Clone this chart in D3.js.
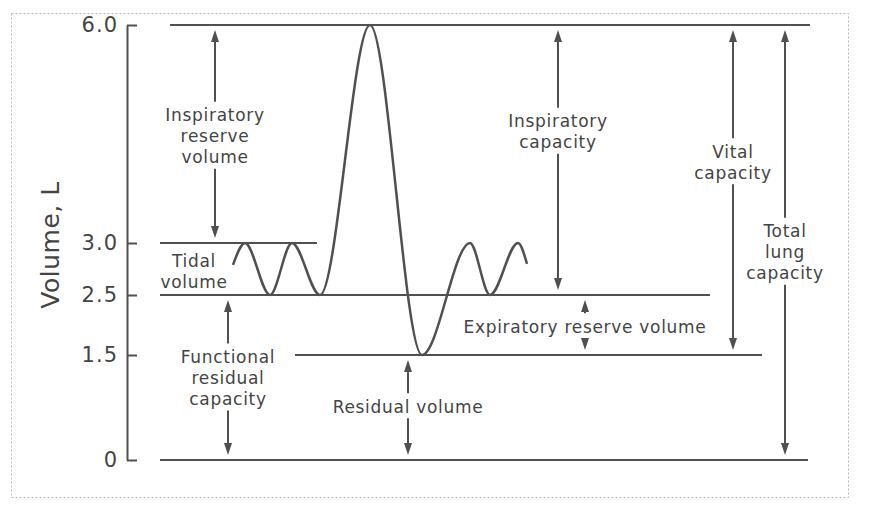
<!DOCTYPE html>
<html>
<head>
<meta charset="utf-8">
<script src="https://cdn.jsdelivr.net/npm/d3@7"></script>
<style>
  body { margin: 0; background: #fff; }
  svg { display: block; }
</style>
</head>
<body>
<svg id="chart" width="888" height="515"></svg>
<script>
// lung volume levels (litres) and how far each level line runs along the trace (s)
var levelValues = [6.0, 3.0, 2.5, 1.5, 0];
var levelStart = [1, 0, 0, 13.5, 0];
var levelEnd = [65, 15.7, 55, 60.2, 64.8];

var tickValues = [0, 1.5, 2.5, 3.0, 6.0];
var tickLabels = ['0', '1.5', '2.5', '3.0', '6.0'];

// spirogram turning points
var traceTime = [7.3, 8.5, 11, 13.2, 16, 21, 26.2, 31, 33, 35.8, 36.7];
var traceVolume = [2.79, 3.0, 2.5, 3.0, 2.5, 6.0, 1.5, 3.0, 2.5, 3.0, 2.8];

// annotated volumes and capacities
var spanNames = [
  ['Inspiratory', 'reserve', 'volume'],
  ['Tidal', 'volume'],
  ['Functional', 'residual', 'capacity'],
  ['Inspiratory', 'capacity'],
  ['Expiratory reserve volume'],
  ['Residual volume'],
  ['Vital', 'capacity'],
  ['Total', 'lung', 'capacity']
];
var spanTime = [5.5, 3.4, 6.8, 39.8, 42.5, 24.8, 57.3, 62.5];
var spanFrom = [3.0, 2.5, 0, 2.5, 1.5, 0, 1.5, 0];
var spanTo = [6.0, 3.0, 2.5, 6.0, 2.5, 1.5, 6.0, 6.0];
var spanLabelAt = [4.47, 2.73, 1.17, 4.53, 1.97, 0.76, 4.11, 2.91];
var spanArrow = [true, false, true, true, true, true, true, true];

var ink = '#505050',
    textInk = '#444',
    font = '"DejaVu Sans", sans-serif',
    lineHeight = 21,
    tipGap = 5;

var svg = d3.select('#chart');

// the volume axis of the original is schematic, so the scale is piecewise
var y = d3.scaleLinear()
  .domain([0, 1.5, 2.5, 3.0, 6.0])
  .range([460, 355, 295, 243, 25]);
var x = d3.scaleLinear().domain([0, 65]).range([160, 810]);

// frame
svg.append('rect')
  .attr('x', 11.5).attr('y', 13.5)
  .attr('width', 837).attr('height', 484)
  .attr('fill', 'none')
  .attr('stroke', '#b8b8b8')
  .attr('stroke-dasharray', '2,2');

svg.append('defs').append('marker')
  .attr('id', 'head')
  .attr('viewBox', '0 0 12 8')
  .attr('refX', 8)
  .attr('refY', 4)
  .attr('markerWidth', 12)
  .attr('markerHeight', 8)
  .attr('markerUnits', 'userSpaceOnUse')
  .attr('orient', 'auto')
  .append('path')
  .attr('d', 'M 0 0 L 12 4 L 0 8 z')
  .attr('fill', ink);

// y axis
var axis = d3.axisLeft(y)
  .tickValues(tickValues)
  .tickFormat(function (d, i) { return tickLabels[i]; })
  .tickSize(-10)
  .tickSizeOuter(0)
  .tickPadding(9);

var gAxis = svg.append('g')
  .attr('transform', 'translate(127,0)')
  .call(axis);
gAxis.selectAll('.domain, .tick line')
  .attr('stroke', ink)
  .attr('stroke-width', 2);
gAxis.selectAll('.tick text')
  .attr('fill', textInk)
  .attr('font-family', font)
  .attr('font-size', 21)
  .attr('letter-spacing', 1);

svg.append('text')
  .attr('transform', 'translate(59,245) rotate(-90)')
  .attr('text-anchor', 'middle')
  .attr('fill', textInk)
  .attr('font-family', font)
  .attr('font-size', 25)
  .attr('letter-spacing', 0.5)
  .text('Volume, L');

// level lines
svg.append('g').selectAll('line')
  .data(levelValues)
  .enter()
  .append('line')
  .attr('x1', function (d, i) { return x(levelStart[i]); })
  .attr('x2', function (d, i) { return x(levelEnd[i]); })
  .attr('y1', function (d) { return y(d); })
  .attr('y2', function (d) { return y(d); })
  .attr('stroke', ink)
  .attr('stroke-width', 2);

// spirogram
var trace = traceTime.map(function (t, i) {
  return {t: t, v: traceVolume[i]};
});
svg.append('path')
  .datum(trace)
  .attr('d', d3.line()
    .x(function (d) { return x(d.t); })
    .y(function (d) { return y(d.v); })
    .curve(d3.curveMonotoneX))
  .attr('fill', 'none')
  .attr('stroke', ink)
  .attr('stroke-width', 2.5);

// annotations
var spans = svg.append('g').selectAll('g')
  .data(spanNames)
  .enter()
  .append('g');

spans.each(function (names, i) {
  var g = d3.select(this),
      cx = x(spanTime[i]),
      cy = y(spanLabelAt[i]),
      half = names.length * lineHeight / 2;

  g.selectAll('text')
    .data(names)
    .enter()
    .append('text')
    .attr('x', cx)
    .attr('y', function (d, j) { return cy + (j - (names.length - 1) / 2) * lineHeight; })
    .attr('dy', '0.35em')
    .attr('text-anchor', 'middle')
    .attr('fill', textInk)
    .attr('font-family', font)
    .attr('font-size', 17)
    .attr('letter-spacing', 0.7)
    .text(function (d) { return d; });

  if (!spanArrow[i]) { return; }

  var top = y(spanTo[i]) + tipGap,
      bottom = y(spanFrom[i]) - tipGap;
  [[cy - half - 3, top + 4], [cy + half + 1, bottom - 4]].forEach(function (seg) {
    g.append('line')
      .attr('x1', cx).attr('x2', cx)
      .attr('y1', seg[0]).attr('y2', seg[1])
      .attr('stroke', ink)
      .attr('stroke-width', 2)
      .attr('marker-end', 'url(#head)');
  });
});
</script>
</body>
</html>
